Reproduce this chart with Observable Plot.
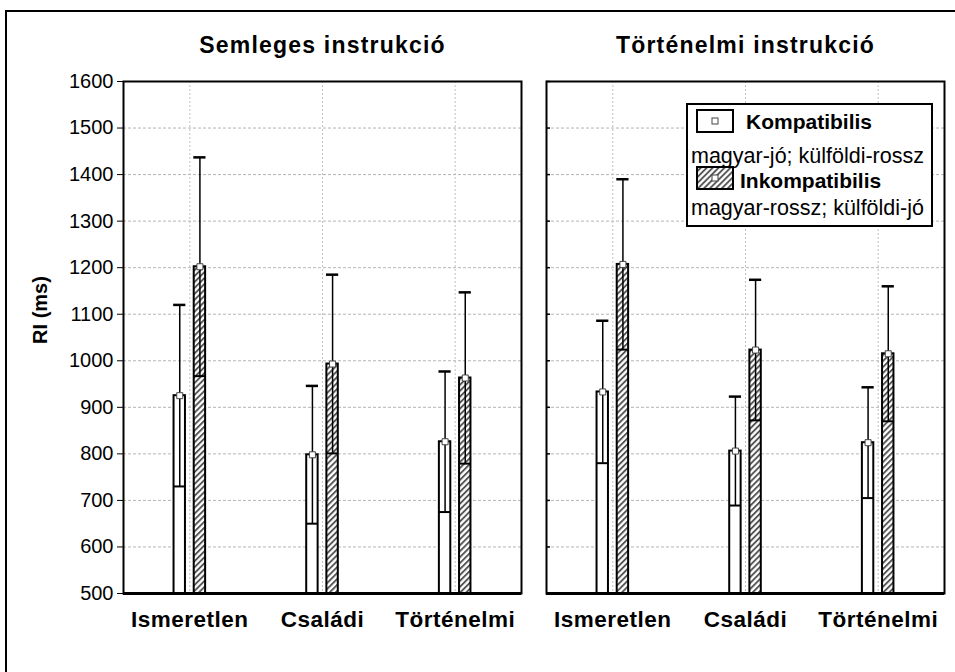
<!DOCTYPE html>
<html><head><meta charset="utf-8">
<script src="https://cdn.jsdelivr.net/npm/d3@7"></script>
<script src="https://cdn.jsdelivr.net/npm/@observablehq/plot@0.6"></script>
<style>
body{margin:0;background:#fff;overflow:hidden}
#chart{position:relative;width:955px;height:672px}
#chart svg{font-family:"Liberation Sans",Arial,sans-serif}
#chart g[aria-label="text"] text{letter-spacing:1.2px}
#chart g[aria-label="x-axis tick label"] text{letter-spacing:0.5px}
</style></head><body><div id="chart"></div>
<script>
const categories = ["Ismeretlen", "Családi", "Történelmi"];
const instructions = ["Semleges instrukció", "Történelmi instrukció"];
const seriesNames = ["Kompatibilis", "Inkompatibilis"];
const seriesSubtitles = ["magyar-jó; külföldi-rossz", "magyar-rossz; külföldi-jó"];
const yTicks = [500, 600, 700, 800, 900, 1000, 1100, 1200, 1300, 1400, 1500, 1600];
const yLabel = "RI (ms)";

// means and error half-widths (ms)
const semlegesKompMean = [925, 798, 826];
const semlegesKompErr = [195, 148, 151];
const semlegesInkompMean = [1202, 993, 963];
const semlegesInkompErr = [235, 192, 184];
const tortenelmiKompMean = [933, 806, 824];
const tortenelmiKompErr = [153, 117, 119];
const tortenelmiInkompMean = [1207, 1023, 1015];
const tortenelmiInkompErr = [183, 151, 145];

const sources = [
  [semlegesKompMean, semlegesKompErr, semlegesInkompMean, semlegesInkompErr],
  [tortenelmiKompMean, tortenelmiKompErr, tortenelmiInkompMean, tortenelmiInkompErr]
];
const OFF = 0.076, HW = 0.043, CAP = 0.046;
const rows = [];
instructions.forEach((instr, f) => {
  const [km, ke, im, ie] = sources[f];
  categories.forEach((cat, i) => {
    rows.push({instr, i, series: seriesNames[0], c: i - OFF, mean: km[i], err: ke[i]});
    rows.push({instr, i, series: seriesNames[1], c: i + OFF, mean: im[i], err: ie[i]});
  });
});
const komp = rows.filter(d => d.series === seriesNames[0]);
const inkomp = rows.filter(d => d.series === seriesNames[1]);
const base = yTicks[0];
const innerTicks = yTicks.map(v => ({instr: instructions[1], v}));

const plot = Plot.plot({
  width: 955, height: 672,
  marginTop: 81, marginBottom: 79, marginLeft: 123, marginRight: 10,
  style: {fontFamily: '"Liberation Sans", Arial, sans-serif', background: "white", color: "black"},
  fx: {domain: instructions, paddingInner: 0.059, paddingOuter: 0, axis: null, label: null},
  x: {domain: [-0.5, 2.5], axis: null},
  y: {domain: [yTicks[0], yTicks[yTicks.length - 1]], axis: null},
  marks: [
    Plot.ruleY(yTicks.slice(1, -1), {stroke: "#b4b4b4", strokeWidth: 1, strokeDasharray: "3,2"}),
    Plot.ruleX([0, 1, 2], {stroke: "#c0c0c0", strokeWidth: 1, strokeDasharray: "2,2"}),
    Plot.rect(komp, {fx: "instr", x1: d => d.c - HW, x2: d => d.c + HW, y1: () => base, y2: "mean", fill: "white", stroke: "black", strokeWidth: 2}),
    Plot.rect(inkomp, {fx: "instr", x1: d => d.c - HW, x2: d => d.c + HW, y1: () => base, y2: "mean", fill: "url(#hatch)", stroke: "black", strokeWidth: 2}),
    Plot.ruleX(rows, {fx: "instr", x: "c", y1: d => d.mean - d.err, y2: d => d.mean + d.err, stroke: "black", strokeWidth: 1.5}),
    Plot.ruleY(rows, {fx: "instr", y: d => d.mean - d.err, x1: d => d.c - HW, x2: d => d.c + HW, stroke: "black", strokeWidth: 2}),
    Plot.ruleY(rows, {fx: "instr", y: d => d.mean + d.err, x1: d => d.c - CAP, x2: d => d.c + CAP, stroke: "black", strokeWidth: 2.5}),
    Plot.dot(rows, {fx: "instr", x: "c", y: "mean", symbol: "square", r: 3.4, fill: "white", stroke: "#444", strokeWidth: 1}),
    Plot.ruleY(innerTicks, {fx: "instr", y: "v", x1: () => -0.5, x2: () => -0.47, stroke: "black", strokeWidth: 1.5}),
    Plot.frame({stroke: "black", strokeWidth: 2}),
    Plot.ruleY([base], {stroke: "black", strokeWidth: 3}),
    Plot.axisY(yTicks, {anchor: "left", tickSize: 6, tickPadding: 4, fontSize: 20, label: null, tickFormat: d => String(d)}),
    Plot.axisX([0, 1, 2], {anchor: "bottom", tickSize: 0, tickPadding: 18, fontSize: 22.5, fontWeight: "bold", label: null, tickFormat: i => categories[i]}),
    Plot.text(instructions, {fx: d => d, text: d => d, frameAnchor: "top", dy: -45, fontSize: 23, fontWeight: "bold"})
  ]
});

const svg = d3.select(plot);
const defs = svg.insert("defs", ":first-child");
const pat = defs.append("pattern").attr("id", "hatch").attr("patternUnits", "userSpaceOnUse")
  .attr("width", 4.2).attr("height", 4.2).attr("patternTransform", "rotate(45)");
pat.append("rect").attr("width", 4.2).attr("height", 4.2).attr("fill", "white");
pat.append("line").attr("x1", 1).attr("y1", 0).attr("x2", 1).attr("y2", 4.2).attr("stroke", "#4a4a4a").attr("stroke-width", 1.8);

// outer frame
svg.append("rect").attr("x", 6).attr("y", 11).attr("width", 1000).attr("height", 700)
  .attr("fill", "none").attr("stroke", "black").attr("stroke-width", 2);

// y label
svg.append("text").attr("transform", "translate(40,310) rotate(-90)").attr("text-anchor", "middle")
  .attr("dy", "0.35em").attr("font-size", 20).attr("font-weight", "bold").text(yLabel);

// legend
const lg = svg.append("g").attr("text-anchor", "start");
lg.append("rect").attr("x", 687).attr("y", 104).attr("width", 245).attr("height", 122)
  .attr("fill", "white").attr("stroke", "black").attr("stroke-width", 2);
const sw = [{y: 110, fill: "white"}, {y: 167, fill: "url(#hatch)"}];
sw.forEach((s) => {
  lg.append("rect").attr("x", 697).attr("y", s.y).attr("width", 36).attr("height", 22)
    .attr("fill", s.fill).attr("stroke", "black").attr("stroke-width", 2);
  lg.append("rect").attr("x", 712).attr("y", s.y + 8).attr("width", 6).attr("height", 6)
    .attr("fill", "white").attr("stroke", "#444").attr("stroke-width", 1);
});
lg.append("text").attr("x", 746).attr("y", 129).attr("font-size", 21).attr("font-weight", "bold").text(seriesNames[0]);
lg.append("text").attr("x", 691).attr("y", 163).attr("font-size", 21.5).text(seriesSubtitles[0]);
lg.append("text").attr("x", 740).attr("y", 188).attr("font-size", 21).attr("font-weight", "bold").text(seriesNames[1]);
lg.append("text").attr("x", 691).attr("y", 215).attr("font-size", 21.5).text(seriesSubtitles[1]);

document.getElementById("chart").appendChild(plot);
</script></body></html>
